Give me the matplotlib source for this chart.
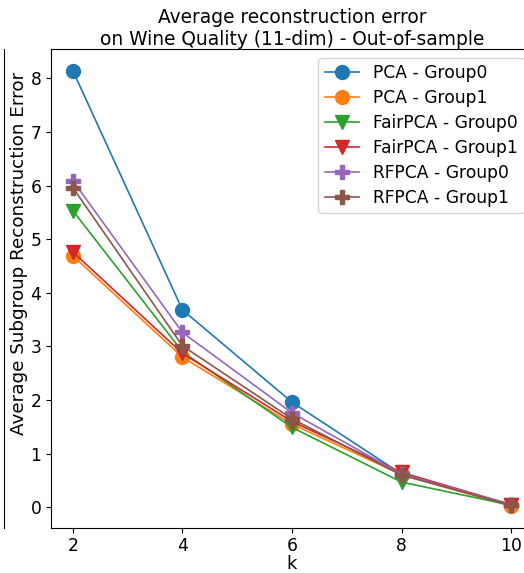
import matplotlib
matplotlib.use("Agg")
import matplotlib.pyplot as plt
from matplotlib.lines import Line2D

ks = [2, 4, 6, 8, 10]
pca_g0 = [8.14, 3.68, 1.96, 0.62, 0.04]
pca_g1 = [4.69, 2.80, 1.55, 0.61, 0.02]
fair_g0 = [5.53, 2.90, 1.49, 0.47, 0.04]
fair_g1 = [4.76, 2.87, 1.60, 0.65, 0.05]
rf_g0 = [6.09, 3.26, 1.76, 0.62, 0.05]
rf_g1 = [5.96, 3.01, 1.65, 0.60, 0.04]

series = [
    ("PCA - Group0", pca_g0, "o", "C0"),
    ("PCA - Group1", pca_g1, "o", "C1"),
    ("FairPCA - Group0", fair_g0, "v", "C2"),
    ("FairPCA - Group1", fair_g1, "v", "C3"),
    ("RFPCA - Group0", rf_g0, "P", "C4"),
    ("RFPCA - Group1", rf_g1, "P", "C5"),
]

plt.rcParams["font.size"] = 12.3

fig = plt.figure(figsize=(5.24, 5.73), dpi=100)
ax = fig.add_axes([0.0973, 0.0785, 0.92, 0.836])

for label, vals, marker, color in series:
    ax.plot(ks, vals, marker=marker, color=color, label=label, lw=1.2, markersize=10)

ax.set_xticks(ks)
ax.tick_params(axis="x", pad=3)
ax.set_xlabel("k", fontsize=13, labelpad=0)
ax.set_ylabel("Average Subgroup Reconstruction Error", fontsize=13.2)
ax.yaxis.set_label_coords(-0.048, 0.574)
ax.set_title("Average reconstruction error\non Wine Quality (11-dim) - Out-of-sample",
             fontsize=13.4, pad=2)
ax.legend(loc="upper right", labelspacing=0.4)

# right spine of the neighbouring panel, cut off in the crop
fig.add_artist(Line2D([0.008, 0.008], [0.0785, 0.9145], transform=fig.transFigure,
                      color="black", lw=0.8))

fig.savefig("out.png", dpi=100)
